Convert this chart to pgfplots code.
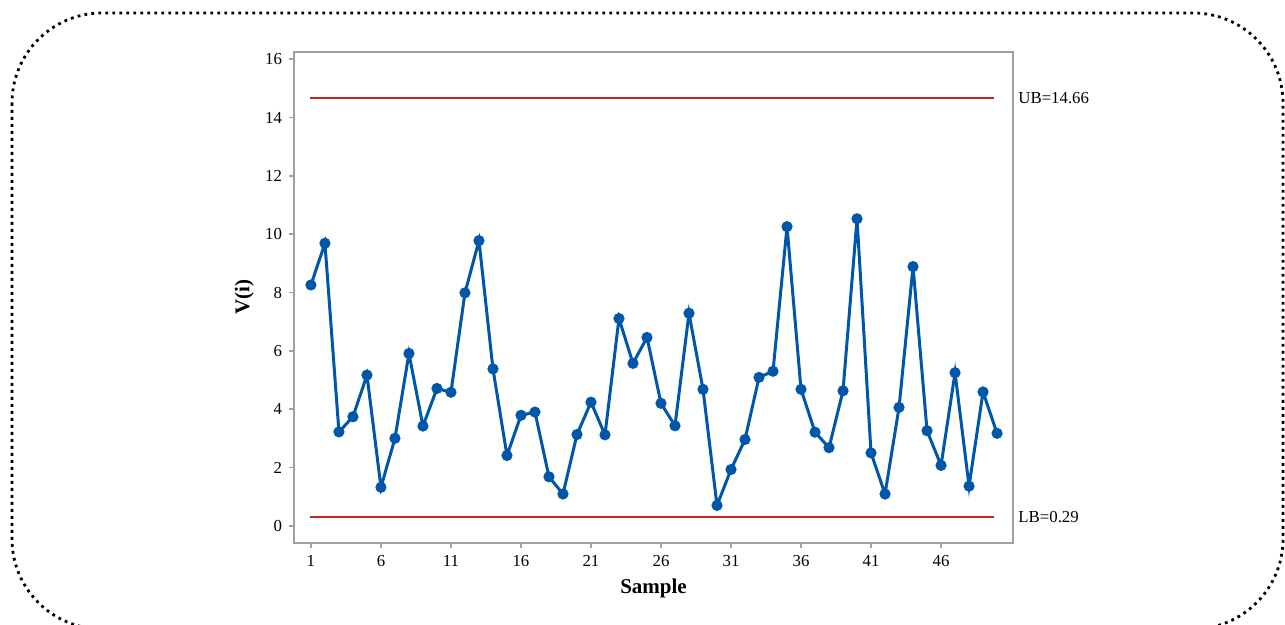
\documentclass[border=0pt]{standalone}
\usepackage{fontspec}
\setmainfont{Liberation Serif}
\usepackage{pgfplots}
\pgfplotsset{compat=1.18}
\definecolor{ptblue}{RGB}{0,86,168}
\definecolor{limred}{RGB}{192,40,40}
\definecolor{axgray}{RGB}{160,160,160}
\begin{document}
\begin{tikzpicture}
\useasboundingbox (0,0) rectangle (642.5pt,312.5pt);
\begin{scope}
\clip (0,0) rectangle (642.5pt,312.5pt);
\draw[line width=1.4pt, dash pattern=on 1.4pt off 2.1pt, rounded corners=45pt] (6pt,306pt) rectangle (641.5pt,-2pt);
\end{scope}
\begin{axis}[
  at={(147pt,41pt)}, anchor=south west, scale only axis,
  width=359.5pt, height=245.5pt,
  xmin=-0.21, xmax=51.14, ymin=-0.59, ymax=16.25,
  xtick={1,6,11,16,21,26,31,36,41,46},
  ytick={0,2,4,6,8,10,12,14,16},
  axis line style={axgray, line width=0.8pt},
  tick style={axgray, line width=0.8pt},
  tick align=outside, major tick length=2.5pt,
  xtick pos=bottom, ytick pos=left,
  tick label style={font=\fontsize{8.4}{10}\selectfont, text=black},
  /pgf/number format/assume math mode=true,
  xlabel={\textbf{Sample}}, ylabel={\textbf{V(i)}},
  xlabel style={font=\fontsize{10.5}{12}\selectfont, at={(axis description cs:0.5,-0.092)}, anchor=center},
  ylabel style={font=\fontsize{10.5}{12}\selectfont, at={(axis description cs:-0.069,0.5)}, anchor=center, rotate=0},
  clip=false,
]
\addplot[limred, line width=1pt] coordinates {(0.93,14.66) (49.8,14.66)};
\addplot[limred, line width=1pt] coordinates {(0.93,0.29) (49.8,0.29)};
\addplot[ptblue, line width=1.5pt, mark=*, mark size=2pt, mark options={fill=ptblue, draw=ptblue}] coordinates {
(1,8.26) (2,9.69) (3,3.22) (4,3.74) (5,5.17) (6,1.32) (7,3.00) (8,5.91) (9,3.42) (10,4.71)
(11,4.58) (12,7.99) (13,9.78) (14,5.38) (15,2.41) (16,3.79) (17,3.90) (18,1.68) (19,1.09) (20,3.13)
(21,4.24) (22,3.12) (23,7.11) (24,5.57) (25,6.46) (26,4.20) (27,3.43) (28,7.29) (29,4.68) (30,0.70)
(31,1.93) (32,2.96) (33,5.09) (34,5.30) (35,10.26) (36,4.68) (37,3.21) (38,2.68) (39,4.63) (40,10.53)
(41,2.50) (42,1.09) (43,4.06) (44,8.89) (45,3.26) (46,2.07) (47,5.25) (48,1.36) (49,4.59) (50,3.17)
};
\node[anchor=west, font=\fontsize{8.4}{10}\selectfont, inner sep=0pt] at (axis cs:51.14,14.66) [xshift=2.5pt] {UB=14.66};
\node[anchor=west, font=\fontsize{8.4}{10}\selectfont, inner sep=0pt] at (axis cs:51.14,0.29) [xshift=2.5pt] {LB=0.29};
\end{axis}
\end{tikzpicture}
\end{document}
